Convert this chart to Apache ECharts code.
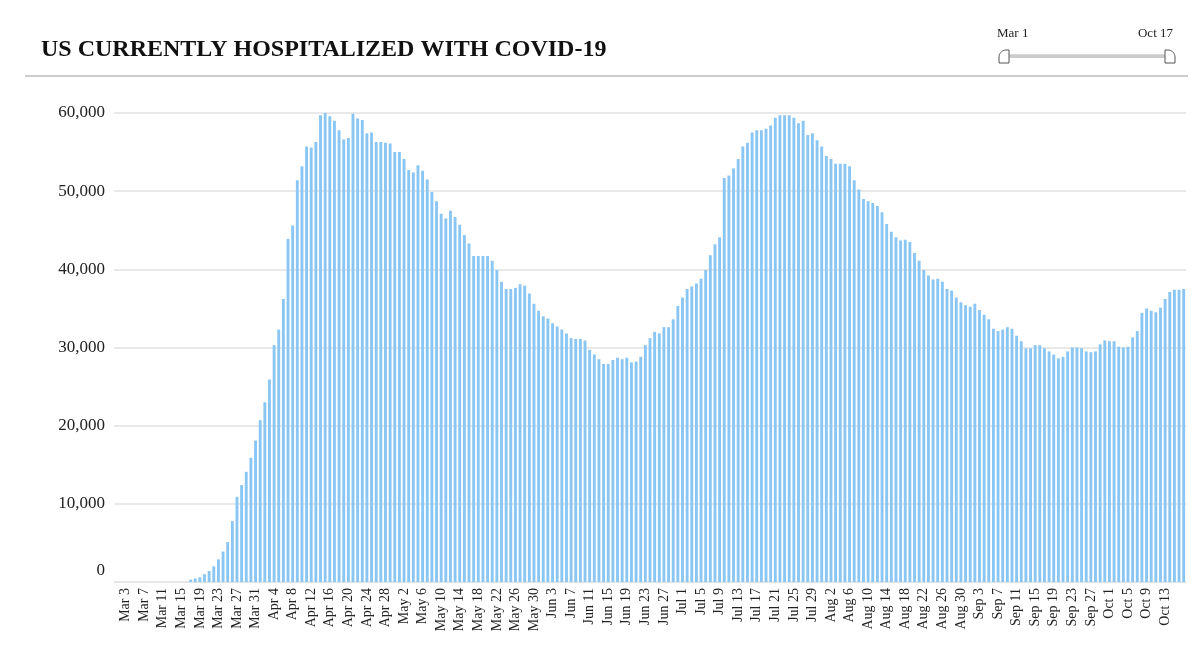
<!DOCTYPE html>
<html>
<head>
<meta charset="utf-8">
<script src="https://cdn.jsdelivr.net/npm/echarts@6/dist/echarts.min.js"></script>
<style>
html,body{margin:0;padding:0;background:#fff;}
#chart{width:1200px;height:648px;}
</style>
</head>
<body>
<div id="chart"></div>
<script>
const titleText = 'US CURRENTLY HOSPITALIZED WITH COVID-19';
const monthNames = ['Mar', 'Apr', 'May', 'Jun', 'Jul', 'Aug', 'Sep', 'Oct'];
const monthDays = [31, 30, 31, 30, 31, 31, 30, 17];

const mar = [0,0,0,0,0,0,0,0,0,0,0,0,0,0,0,0,300,450,600,1000,1400,2000,2900,3900,5100,7800,10900,12400,14100,15900,18100];
const apr = [20700,23000,25900,30300,32300,36200,43900,45600,51400,53200,55700,55600,56300,59700,60000,59600,59000,57800,56600,56800,59900,59300,59100,57400,57500,56300,56300,56200,56100,55000];
const may = [55000,54100,52700,52400,53300,52600,51500,49900,48700,47100,46500,47500,46700,45700,44400,43300,41700,41700,41700,41700,41100,39900,38400,37500,37500,37600,38100,37900,36900,35600,34700];
const jun = [34000,33700,33100,32700,32300,31800,31200,31100,31100,30900,29700,29100,28500,27900,27900,28400,28700,28500,28700,28100,28200,28800,30300,31200,32000,31800,32600,32600,33600,35300];
const jul = [36400,37500,37800,38200,38800,39900,41800,43200,44100,51700,52000,52900,54100,55700,56200,57500,57800,57800,58000,58400,59400,59700,59700,59700,59400,58700,59000,57200,57400,56500,55700];
const aug = [54500,54100,53500,53500,53500,53200,51400,50200,49000,48700,48500,48100,47300,45800,44800,44100,43700,43800,43500,42100,41100,39900,39200,38700,38800,38400,37500,37300,36400,35800,35400];
const sep = [35200,35600,34800,34200,33600,32400,32100,32300,32600,32400,31500,30800,29900,29900,30300,30300,29900,29500,29100,28600,28800,29500,30000,30000,29900,29500,29400,29500,30400,30900];
const oct = [30800,30800,30100,30000,30100,31300,32100,34400,35000,34700,34500,35100,36200,37100,37400,37400,37500];

const yTicks = [0, 10000, 20000, 30000, 40000, 50000, 60000];

const categories = [];
monthNames.forEach((m, k) => { for (let d = 1; d <= monthDays[k]; d++) categories.push(m + ' ' + d); });
const values = [].concat(mar, apr, may, jun, jul, aug, sep, oct);

function tab(xFlat, dir) {
  // dir = -1: bulge to the left; dir = 1: bulge to the right
  const r = 7, top = 50, bottom = 63, w = 10;
  const xOut = xFlat + dir * w;
  const cx = xOut - dir * r, cy = top + r;
  const pts = [[xFlat, top], [cx, top]];
  for (let a = 10; a <= 90; a += 10) {
    const rad = a * Math.PI / 180;
    pts.push([cx + dir * Math.sin(rad) * r, cy - Math.cos(rad) * r]);
  }
  pts.push([xOut, bottom], [xFlat, bottom]);
  return pts;
}

const serif = '"Liberation Serif", "Times New Roman", serif';
const chart = echarts.init(document.getElementById('chart'));
chart.setOption({
  animation: false,
  backgroundColor: '#fff',
  title: {
    text: titleText,
    left: 36,
    top: 33,
    textStyle: { fontFamily: serif, fontWeight: 'bold', fontSize: 24, color: '#111' }
  },
  grid: { left: 114, right: 14, top: 113, bottom: 66, containLabel: false },
  xAxis: {
    type: 'category',
    data: categories,
    axisLine: { show: true, lineStyle: { color: '#e4e4e4', width: 1 } },
    axisTick: { show: false },
    axisLabel: {
      rotate: 90,
      margin: 6,
      interval: (i) => i >= 2 && (i - 2) % 4 === 0 && i < categories.length - 1,
      fontFamily: serif,
      fontSize: 14,
      color: '#222'
    },
    splitLine: { show: false }
  },
  yAxis: {
    type: 'value',
    min: yTicks[0],
    max: yTicks[yTicks.length - 1],
    interval: yTicks[1] - yTicks[0],
    axisLine: { show: false },
    axisTick: { show: false },
    splitLine: { lineStyle: { color: '#e2e2e2', width: 1.5 } },
    axisLabel: {
      margin: 9,
      fontFamily: serif,
      fontSize: 17,
      color: '#222',
      formatter: (v) => v === 0 ? '{z|0}' : v.toLocaleString('en-US'),
      rich: { z: { fontFamily: serif, fontSize: 17, color: '#222', padding: [0, 0, 22, 0] } }
    }
  },
  series: [{
    type: 'bar',
    data: values,
    barWidth: '62%',
    itemStyle: { color: '#8ac6f4' }
  }],
  graphic: [
    { type: 'line', shape: { x1: 25, y1: 76, x2: 1188, y2: 76 }, style: { stroke: '#bdbdbd', lineWidth: 1.5 } },
    { type: 'text', x: 997, y: 34, style: { text: categories[0], font: '13px ' + serif, fill: '#222', textVerticalAlign: 'middle', textAlign: 'left' } },
    { type: 'text', x: 1173, y: 34, style: { text: categories[categories.length - 1], font: '13px ' + serif, fill: '#222', textVerticalAlign: 'middle', textAlign: 'right' } },
    { type: 'rect', shape: { x: 1008, y: 54.3, width: 157, height: 3.6 }, style: { fill: '#cccccc' } },
    { type: 'polygon', shape: { points: tab(1009, -1) }, style: { fill: '#fff', stroke: '#555', lineWidth: 1 } },
    { type: 'polygon', shape: { points: tab(1165, 1) }, style: { fill: '#fff', stroke: '#555', lineWidth: 1 } }
  ]
});
</script>
</body>
</html>
